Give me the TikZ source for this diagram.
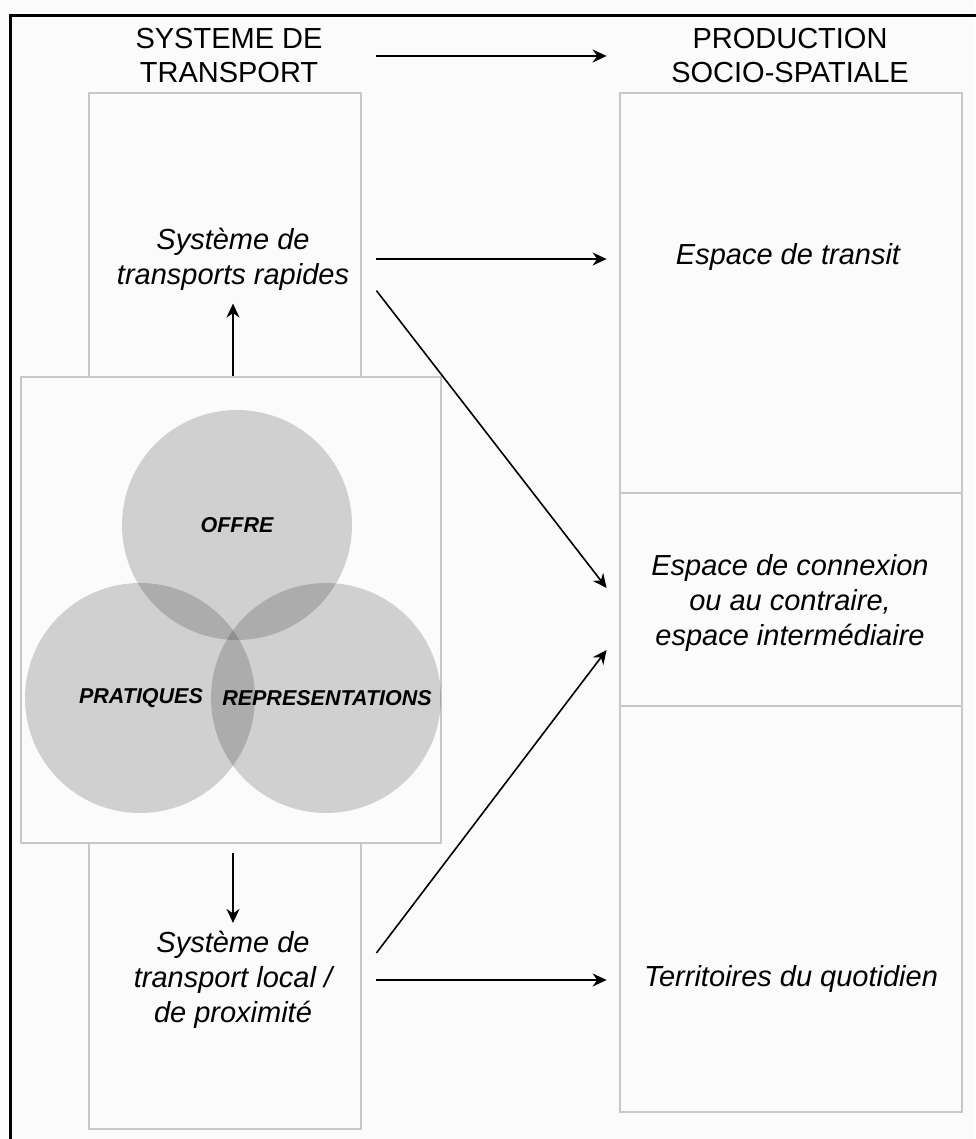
\documentclass[tikz,border=0pt]{standalone}
\usepackage{fontspec}
\setmainfont{Liberation Sans}
\usepackage{tikz}
\usetikzlibrary{arrows.meta}

\definecolor{boxgray}{RGB}{200,200,200}
\definecolor{paper}{RGB}{251,251,251}

\begin{document}
\begin{tikzpicture}[x=0.5pt,y=-0.5pt,
  box/.style={draw=boxgray,line width=1pt,fill=paper},
  title/.style={align=center,inner sep=0pt,font=\fontsize{14.5}{17}\selectfont},
  lbl/.style={align=center,inner sep=0pt,font=\fontsize{14.5}{17.5}\selectfont\itshape},
  vennc/.style={circle,inner sep=0pt,minimum size=115pt,fill=black,fill opacity=0.17},
  vlbl/.style={inner sep=0pt,font=\fontsize{10.75}{12}\selectfont\bfseries\itshape},
  arr/.style={-{Stealth[length=7pt,width=6.5pt]},line width=0.8pt}]
\useasboundingbox (0,0) rectangle (975,1139);
\fill[paper] (0,0) rectangle (975,1139);
\draw[line width=1.5pt] (10,1145) -- (10,15.5) -- (980,15.5);

% columns
\draw[box] (89,93) rectangle (361,1129);
\draw[box] (620,93) rectangle (962,1112);
\draw[boxgray,line width=1pt] (620,493) -- (962,493);
\draw[boxgray,line width=1pt] (620,706) -- (962,706);

% titles
\node[title,minimum width=147pt] (tsys) at (229,56) {SYSTEME DE\\TRANSPORT};
\node[title,minimum width=183pt] (tprod) at (790,56) {PRODUCTION\\SOCIO-SPATIALE};
\draw[arr] (tsys.east) -- (tprod.west);

% venn
\node[box,minimum width=210pt,minimum height=233pt] (vbox) at (231,610) {};
\node[vennc] (offre) at (237,525) {};
\node[vennc] (prat) at (140,698) {};
\node[vennc] (repr) at (326,698) {};
\node[vlbl] (loffre) at (237,525) {OFFRE};
\node[vlbl] (lprat) at (141,698) {PRATIQUES};
\node[vlbl] (lrepr) at (327,698) {REPRESENTATIONS};

% left labels
\node[lbl,minimum width=143pt] (rapide) at (233,259) {Système de\\transports rapides};
\node[lbl,minimum width=143pt] (local) at (233,980) {Système de\\transport local /\\de proximité};

% right labels
\node[lbl,minimum width=181pt] (transit) at (788,257) {Espace de transit};
\node[lbl,minimum width=183pt] (connex) at (790,603) {Espace de connexion\\ou au contraire,\\espace intermédiaire};
\node[lbl,minimum width=184pt] (quot) at (791,979) {Territoires du quotidien};

\draw[arr,shorten >=6.5pt] (vbox.north -| rapide) -- (rapide.south);
\draw[arr,shorten <=4.5pt,shorten >=4pt] (vbox.south -| local) -- (local.north);
\draw[arr] (rapide.east) -- (rapide.east -| transit.west);
\draw[arr] (rapide.south east) -- ([yshift=7.5pt]connex.west);
\draw[arr] ([yshift=13.5pt]local.east) -- ([yshift=-23.5pt]connex.west);
\draw[arr] (local.east) -- (local.east -| quot.west);
\end{tikzpicture}
\end{document}
